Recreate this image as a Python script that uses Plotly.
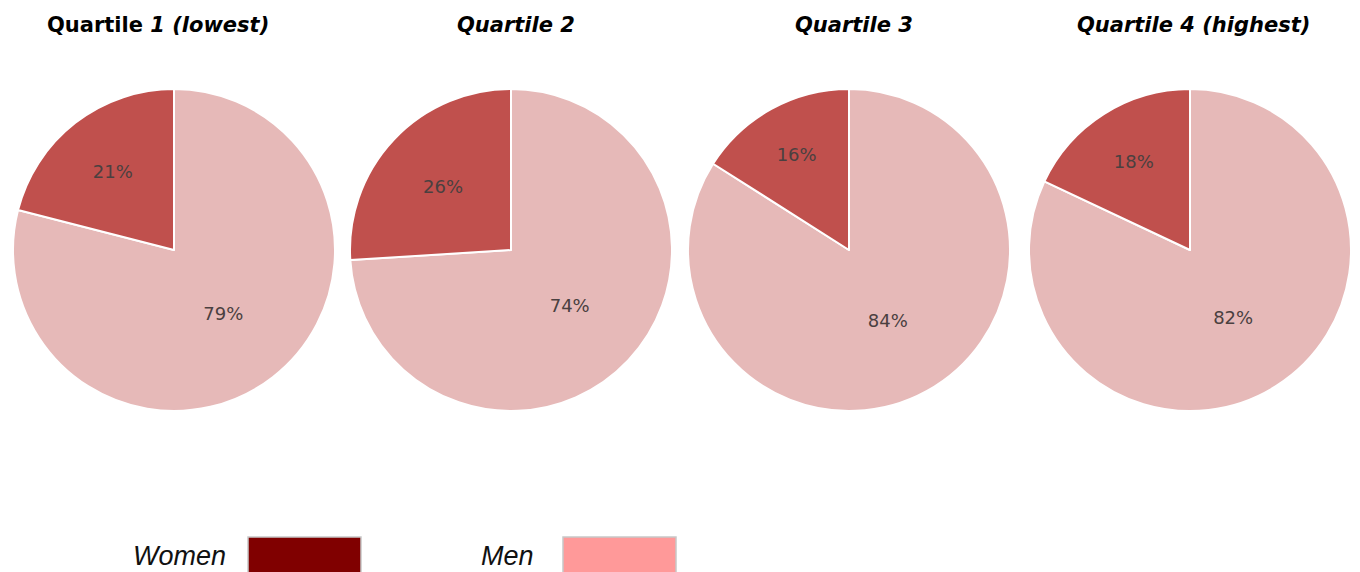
import plotly.graph_objects as go

quartiles = ["Quartile <i>1 (lowest)</i>", "<i>Quartile 2</i>", "<i>Quartile 3</i>", "<i>Quartile 4 (highest)</i>"]
groups = ["Women", "Men"]
women = [21, 26, 16, 18]
men = [79, 74, 84, 82]

pie_colors = {"Women": "#C0504D", "Men": "#E6B9B8"}
legend_colors = {"Women": "#800000", "Men": "#FF9999"}

# page offset (body margin) compensation
OFF = 8
W, H = 1360 - OFF, 572 - OFF


def px(x):
    return (x - OFF) / W


def py(y):
    return 1 - (y - OFF) / H


pie_left = [13, 350, 688, 1029]
title_center = [158, 516, 854, 1193]
diam = 322
pie_top, pie_bottom = 89, 411

fig = go.Figure()
for i, q in enumerate(quartiles):
    # counterclockwise from 12 o'clock: Men listed first so Women lands left of 12
    labs = ["Men", "Women"]
    vals = [men[i], women[i]]
    fig.add_trace(go.Pie(
        labels=labs,
        values=vals,
        sort=False,
        direction="counterclockwise",
        rotation=0,
        marker=dict(colors=[pie_colors[l] for l in labs], line=dict(color="white", width=2)),
        texttemplate="%{value}%",
        textposition="inside",
        insidetextorientation="horizontal",
        textfont=dict(family="DejaVu Sans", size=18, color="#4A4040"),
        domain=dict(x=[px(pie_left[i]), px(pie_left[i] + diam)],
                    y=[py(pie_bottom), py(pie_top)]),
        showlegend=False,
        hoverinfo="label+percent",
    ))
    fig.add_annotation(
        text="<b>" + q + "</b>",
        x=px(title_center[i]), y=py(25),
        xref="paper", yref="paper", showarrow=False,
        xanchor="center", yanchor="middle",
        font=dict(family="DejaVu Sans", size=21, color="black"),
    )

# legend
legend_text_x = [228, 536]
legend_box_x = [248, 563]
for j, g in enumerate(groups):
    fig.add_annotation(
        text="<i>" + g + "</i>", x=px(legend_text_x[j]), y=py(556),
        xref="paper", yref="paper", showarrow=False,
        xanchor="right", yanchor="middle",
        font=dict(family="Liberation Sans", size=27, color="#111111"),
    )
    fig.add_shape(
        type="rect", xref="paper", yref="paper",
        x0=px(legend_box_x[j]), x1=px(legend_box_x[j] + 113),
        y0=py(574), y1=py(537),
        fillcolor=legend_colors[g], line=dict(color="#C8C8C8", width=1.5),
    )

fig.update_layout(
    width=W, height=H,
    margin=dict(l=0, r=0, t=0, b=0),
    paper_bgcolor="white", plot_bgcolor="white",
)
fig.write_html("out.html")
